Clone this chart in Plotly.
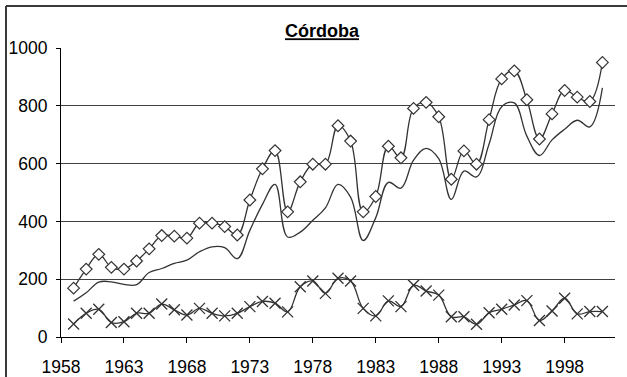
import plotly.graph_objects as go

# Annual series for Córdoba, 1959-2001
years = list(range(1959, 2002))

total = [169, 235, 286, 241, 235, 263, 305, 351, 349, 342,
         394, 394, 382, 353, 474, 582, 645, 433, 537, 598,
         598, 731, 678, 433, 486, 660, 620, 791, 812, 762,
         546, 644, 598, 752, 893, 921, 821, 685, 772, 853,
         830, 815, 950]

middle = [124, 153, 190, 191, 182, 181, 223, 237, 255, 266,
          295, 312, 309, 271, 369, 459, 528, 346, 363, 404,
          447, 528, 484, 334, 413, 535, 515, 612, 653, 617,
          476, 574, 554, 668, 797, 810, 695, 628, 682, 719,
          750, 727, 862]

lower = [45, 82, 96, 50, 53, 82, 82, 114, 94, 76,
         99, 82, 73, 82, 105, 123, 117, 87, 174, 194,
         151, 203, 194, 99, 73, 125, 105, 179, 159, 145,
         70, 70, 44, 84, 96, 111, 126, 57, 90, 134,
         80, 88, 88]

x_ticks = [1958, 1963, 1968, 1973, 1978, 1983, 1988, 1993, 1998]
y_ticks = [0, 200, 400, 600, 800, 1000]

ink = "#333333"
font_family = "Liberation Sans, Arial, sans-serif"

W, H = 627, 377
L, R, T, B = 61, 12, 48, 40
pw, ph = W - L - R, H - T - B

fig = go.Figure()

fig.add_trace(go.Scatter(
    x=years, y=total, mode="lines+markers",
    line=dict(color=ink, width=1.3, shape="spline", smoothing=1.1),
    marker=dict(symbol="diamond", size=9, color="white",
                line=dict(color=ink, width=1.2)),
))
fig.add_trace(go.Scatter(
    x=years, y=middle, mode="lines",
    line=dict(color=ink, width=1.3, shape="spline", smoothing=1.1),
))
fig.add_trace(go.Scatter(
    x=years, y=lower, mode="lines+markers",
    line=dict(color=ink, width=1.3, shape="spline", smoothing=1.1),
    marker=dict(symbol="x-thin", size=11, color=ink,
                line=dict(color=ink, width=1.3)),
))

# outer frame of the chart: only its left and top sides fall on the page
frame_x = (6 - L) / pw
frame_y = 1 + (T - 6) / ph
frame = dict(color="#3a3a3a", width=2)
fig.add_shape(type="line", xref="paper", yref="paper",
              x0=frame_x, x1=frame_x, y0=-(B + 5) / ph, y1=frame_y, line=frame)
fig.add_shape(type="line", xref="paper", yref="paper",
              x0=frame_x, x1=1 + (R + 5) / pw, y0=frame_y, y1=frame_y, line=frame)

fig.update_layout(
    width=W, height=H,
    margin=dict(l=L, r=R, t=T, b=B),
    paper_bgcolor="white", plot_bgcolor="white",
    showlegend=False,
    font=dict(family=font_family, size=17.5, color="black"),
    title=dict(text="<u><b>Córdoba</b></u>", x=322 / W,
               xanchor="center", y=1 - 31 / H, yanchor="middle",
               font=dict(size=18, family=font_family, color="black")),
    xaxis=dict(range=[1958, 2002], tickvals=x_ticks, ticks="outside",
               ticklen=5, tickcolor="black", showgrid=False, zeroline=False,
               showline=True, linecolor="black", linewidth=1,
               ticklabelstandoff=9, automargin=False),
    yaxis=dict(range=[0, 1000], tickvals=y_ticks, ticks="outside",
               ticklen=4, tickcolor="black", showgrid=True,
               gridcolor="#404040", gridwidth=1, zeroline=False,
               showline=True, linecolor="black", linewidth=1,
               ticklabelstandoff=5, automargin=False),
)

fig.write_html("out.html")
